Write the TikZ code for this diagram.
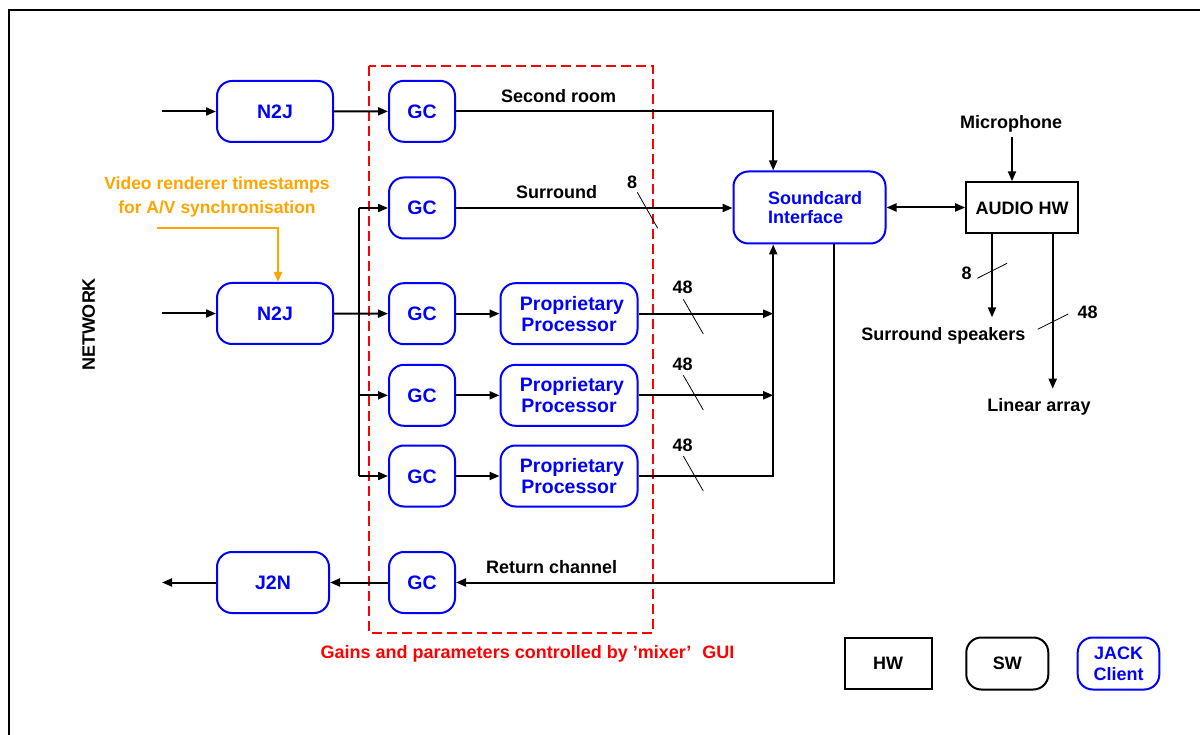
\documentclass[tikz,border=0pt]{standalone}
\usepackage{fontspec}
\setmainfont{Liberation Sans}
\usetikzlibrary{arrows.meta,calc}
\definecolor{jblue}{RGB}{0,0,255}
\definecolor{jred}{RGB}{255,0,0}
\definecolor{jorange}{RGB}{255,165,0}
\begin{document}
\begin{tikzpicture}[x=1pt,y=-1pt,
  jack/.style={draw=jblue, line width=2pt, rounded corners=15pt, text=jblue,
    font=\fontsize{19.5}{21}\selectfont\bfseries, inner sep=0pt, align=center,
    text height=14pt, text depth=0pt},
  twoline/.style={text height=35pt},
  hwbox/.style={draw=black, line width=2pt, font=\fontsize{18}{21}\selectfont\bfseries,
    inner sep=0pt, text height=12.9pt, text depth=0pt},
  swbox/.style={hwbox, rounded corners=15pt},
  lbl/.style={font=\fontsize{18}{21}\selectfont\bfseries, inner sep=0pt,
    text height=12.9pt, text depth=0pt},
  arr/.style={line width=2pt, -{Triangle[length=10pt,width=8pt]}},
  conn/.style={line width=2pt},
  slash/.style={line width=0.8pt}]
\useasboundingbox (0,0) rectangle (1200,735);
\clip (0,0) rectangle (1200,735);
\fill[white] (0,0) rectangle (1200,735);
\draw[line width=1.5pt] (9,10) rectangle (1220,760);

% mixer area
\draw[jred, line width=2pt, dash pattern=on 10pt off 5pt] (369,66) rectangle (653,633);
\node[lbl, text=jred] (mixlbl) at (527.5,652) {Gains and parameters controlled by ’mixer’\hspace{0.6em}GUI};

% JACK clients
\node[jack, minimum width=116pt, minimum height=61pt] (n2j1) at (275,111.5) {N2J};
\node[jack, minimum width=116pt, minimum height=61pt] (n2j2) at (275,313.5) {N2J};
\node[jack, minimum width=112pt, minimum height=61pt] (j2n) at (273,582.5) {J2N};
\node[jack, minimum width=66pt, minimum height=61pt] (gc1) at (422,111.3) {GC};
\node[jack, minimum width=66pt, minimum height=61pt] (gc2) at (422,208) {GC};
\node[jack, minimum width=66pt, minimum height=61pt] (gc3) at (422,313.7) {GC};
\node[jack, minimum width=66pt, minimum height=61pt] (gc4) at (422,395.3) {GC};
\node[jack, minimum width=66pt, minimum height=61pt] (gc5) at (422,476) {GC};
\node[jack, minimum width=66pt, minimum height=61pt] (gc6) at (422,582.5) {GC};
\node[jack, twoline, minimum width=137pt, minimum height=61pt] (pp1) at (569,313.7) {\hspace*{6pt}Proprietary\\Processor};
\node[jack, twoline, minimum width=137pt, minimum height=61pt] (pp2) at (569,395.3) {\hspace*{6pt}Proprietary\\Processor};
\node[jack, twoline, minimum width=137pt, minimum height=61pt] (pp3) at (569,476) {\hspace*{6pt}Proprietary\\Processor};
\node[jack, minimum width=152pt, minimum height=72pt, align=left,
  font=\fontsize{18}{19.8}\selectfont\bfseries, text height=32.7pt]
  (sc) at (809.5,207.5) {\hspace*{11pt}Soundcard\\\hspace*{11pt}Interface};

% hardware
\node[hwbox, minimum width=112pt, minimum height=51pt] (ahw) at (1022.2,207.8) {AUDIO HW};

% labels
\node[lbl, rotate=90] (net) at (88.3,324.5) {NETWORK};
\node[lbl, text=jorange, align=center, font=\fontsize{17.5}{24}\selectfont\bfseries, text height=36.5pt]
  (vid) at (217,195) {Video renderer timestamps\\for A/V synchronisation};
\node[lbl] (l2room) at (558.7,95.7) {Second room};
\node[lbl] (lsurr) at (556.7,191.7) {Surround};
\node[lbl] (l8a) at (632,182.5) {8};
\node[lbl] (l48a) at (682.7,287.3) {48};
\node[lbl] (l48b) at (682.7,364) {48};
\node[lbl] (l48c) at (682.7,444.7) {48};
\node[lbl] (lret) at (551.6,566.7) {Return channel};
\node[lbl] (mic) at (1011,122) {Microphone};
\node[lbl] (lspk) at (943.3,333.7) {Surround speakers};
\node[lbl] (llin) at (1039,404.7) {Linear array};
\node[lbl] (l8b) at (966.7,272.7) {8};
\node[lbl] (l48d) at (1087.7,312.3) {48};

% legend
\node[hwbox, minimum width=87pt, minimum height=51.6pt] (hw) at (888.2,663.5) {HW};
\node[swbox, minimum width=82pt, minimum height=52pt] (sw) at (1007.3,663.5) {SW};
\node[jack, minimum width=81.6pt, minimum height=52pt, font=\fontsize{18}{21}\selectfont\bfseries,
  text height=33.9pt] (jc) at (1118.5,663.5) {JACK\\Client};

% coordinates
\coordinate (in1) at (162,111.5);
\coordinate (in2) at (162,313.5);
\coordinate (out1) at (162,582.5);
\coordinate (bus) at (359,313.7);
\coordinate (scin) at ([xshift=40.7pt]sc.north west);
\coordinate (scbus) at ([xshift=40.7pt]sc.south west);
\coordinate (scret) at ([xshift=101.7pt]sc.south west);
\coordinate (vidl) at (157,228);
\coordinate (micA) at (1012,137.3);
\coordinate (spkA) at (992,317.3);
\coordinate (linA) at (1052.7,388.7);

% connectors
\draw[arr] (in1) -- (n2j1);
\draw[arr] (n2j1) -- (gc1);
\draw[arr] (in2) -- (n2j2.west);
\draw[arr] (n2j2.east) -- (gc3.west);
\draw[conn] (bus |- gc2) -- (bus |- gc5);
\draw[arr] (bus |- gc2) -- (gc2.west);
\draw[arr] (bus |- gc4) -- (gc4.west);
\draw[arr] (bus |- gc5) -- (gc5.west);
\draw[arr, jorange] (vidl) -| ([xshift=3pt]n2j2.north);
\draw[arr] (gc3) -- (pp1);
\draw[arr] (gc4) -- (pp2);
\draw[arr] (gc5) -- (pp3);
\draw[arr] (gc1.east) -| (scin);
\draw[arr] (gc2.east) -- (gc2.east -| sc.west);
\draw[arr] (pp1.east) -- (pp1.east -| scbus);
\draw[arr] (pp2.east) -- (pp2.east -| scbus);
\draw[arr] (pp3.east) -| (scbus);
\draw[arr] (scret) |- (gc6.east);
\draw[arr] (gc6) -- (j2n);
\draw[arr] (j2n) -- (out1);
\draw[line width=2pt, {Triangle[length=10pt,width=8pt]}-{Triangle[length=10pt,width=8pt]}] (sc.east) -- (sc.east -| ahw.west);
\draw[arr] (micA) -- (micA |- ahw.north);
\draw[arr] (spkA |- ahw.south) -- (spkA);
\draw[arr] (linA |- ahw.south) -- (linA);

% bus-width slashes
\draw[slash] (637.3,192.3) -- (657.7,228.3);
\draw[slash] (683.3,299.3) -- (703.3,334);
\draw[slash] (683.3,375.3) -- (703.3,410);
\draw[slash] (683.3,456) -- (703.3,491);
\draw[slash] (977.3,278.3) -- (1007,263.3);
\draw[slash] (1037.7,329.3) -- (1068.3,314);
\end{tikzpicture}
\end{document}
